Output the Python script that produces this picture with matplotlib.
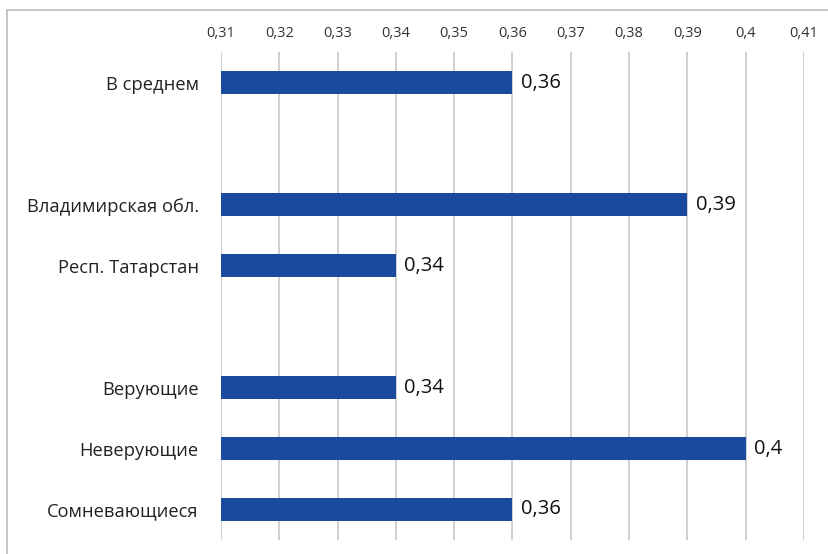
import matplotlib.pyplot as plt
from matplotlib.patches import Rectangle

# rows with empty slots as separators between groups
categories = ["В среднем", "", "Владимирская обл.", "Респ. Татарстан", "",
              "Верующие", "Неверующие", "Сомневающиеся"]
values = [0.36, None, 0.39, 0.34, None, 0.34, 0.40, 0.36]
value_labels = ["0,36", "", "0,39", "0,34", "", "0,34", "0,4", "0,36"]
ticks = [0.31, 0.32, 0.33, 0.34, 0.35, 0.36, 0.37, 0.38, 0.39, 0.40, 0.41]
tick_labels = ["0,31", "0,32", "0,33", "0,34", "0,35", "0,36", "0,37",
               "0,38", "0,39", "0,4", "0,41"]
base = 0.31

plt.rcParams['font.family'] = ['Open Sans', 'DejaVu Sans']

fig = plt.figure(figsize=(8.29, 5.54), dpi=100)
ax = fig.add_axes([0.2666, 0.0253, 0.7032, 0.8807])

ys = [i for i, v in enumerate(values) if v is not None]
widths = [values[i] - base for i in ys]
ax.barh(ys, widths, left=base, height=0.38, color="#1a4a9e", zorder=3)

for i in ys:
    ax.text(values[i] + 0.0014, i, value_labels[i], va="center", ha="left",
            fontsize=14.5, color="#111111", zorder=4)

ax.set_xlim(0.31, 0.41)
ax.set_ylim(7.5, -0.5)
ax.set_xticks(ticks)
ax.set_xticklabels(tick_labels, fontsize=10.5, color="#333333")
ax.xaxis.tick_top()
ax.set_yticks(ys)
ax.set_yticklabels([categories[i] for i in ys], fontsize=13.2, color="#222222")
ax.tick_params(axis="x", length=0, pad=8)
ax.tick_params(axis="y", length=0, pad=16)
ax.grid(axis="x", color="#c8c8c8", linewidth=1.2, zorder=0)
for s in ax.spines.values():
    s.set_visible(False)

# light frame around the whole chart
fig.patches.append(Rectangle((7 / 829, -0.01), 1.0, 1 - 10 / 554 + 0.01,
                             transform=fig.transFigure, fill=False,
                             edgecolor="#bbbbbb", linewidth=1.2))

fig.savefig("out.png", dpi=100)
